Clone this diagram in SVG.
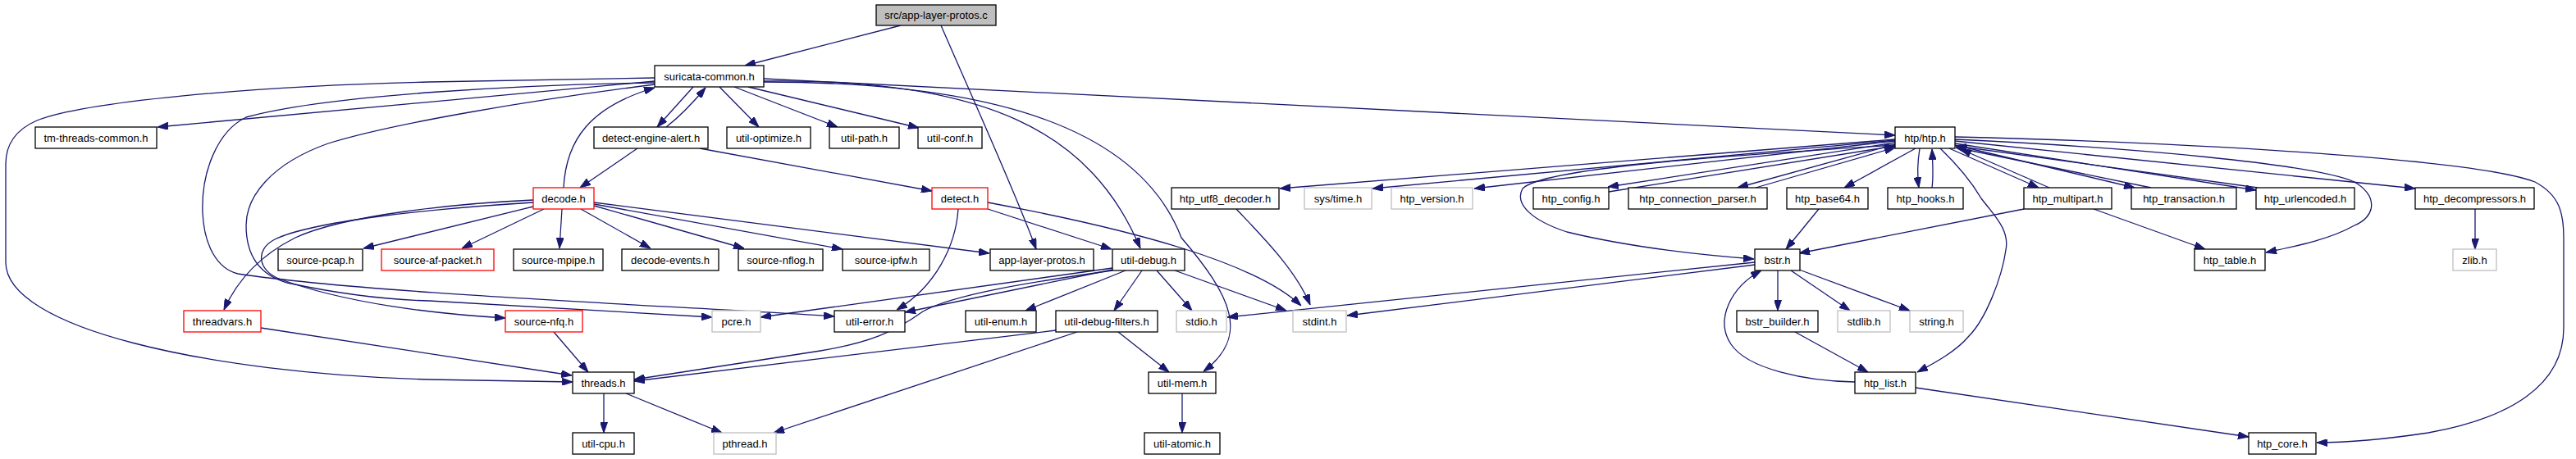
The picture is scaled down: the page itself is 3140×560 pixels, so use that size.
<svg xmlns="http://www.w3.org/2000/svg" width="3140" height="560" viewBox="0 0 3140 560">
<style>
.n rect{fill:#ffffff;stroke:#000000;stroke-width:1.3}
.n.red rect{stroke:#ff0000}
.n.gray rect{stroke:#bfbfbf}
.n.root rect{fill:#bfbfbf}
.n text{font-family:"Liberation Sans",Arial,sans-serif;font-size:13px;fill:#000;text-anchor:middle}
#edges path{fill:none;stroke:#191970;stroke-width:1.3;marker-end:url(#ah)}
</style>
<defs>
<marker id="ah" viewBox="0 0 13 9" refX="13" refY="4.5" markerWidth="13" markerHeight="9" markerUnits="userSpaceOnUse" orient="auto">
<path d="M0,0 L13,4.5 L0,9 z" fill="#191970" stroke="#191970" stroke-width="1"/>
</marker>
</defs>
<rect width="3140" height="560" fill="#ffffff"/>
<g id="edges">
<path d="M1098,31 L908,80"/>
<path d="M1147,31 C1190,130 1240,240 1263,304"/>
<path d="M798,99 L192,155"/>
<path d="M798,95 L523,100 C300,105 100,125 45,147 C15,160 7,180 7,200 L7,320 C7,400 250,455 523,463 L698,466"/>
<path d="M845,106 L801,155"/>
<path d="M812,155 C825,145 845,125 860,107"/>
<path d="M877,106 L925,155"/>
<path d="M895,106 L1021,155"/>
<path d="M912,106 L1120,156"/>
<path d="M931,96 L2310,165"/>
<path d="M931,99 C1200,95 1330,160 1390,303"/>
<path d="M931,100 C1220,100 1390,160 1440,290 C1500,360 1525,410 1467,453"/>
<path d="M798,101 C650,103 400,115 300,143 C265,160 245,210 247,260 C249,300 265,328 290,334 C450,358 800,372 1017,386"/>
<path d="M798,103 C650,122 480,150 400,175 C330,200 300,240 300,275 C300,310 315,335 350,345 C420,360 480,366 523,367 L868,387"/>
<path d="M687,229 C690,170 720,130 798,107"/>
<path d="M777,181 L707,229"/>
<path d="M853,181 L1136,233"/>
<path d="M650,244 C560,248 420,262 360,290 C320,310 290,340 273,378"/>
<path d="M650,247 C520,255 380,270 335,292 C310,305 315,330 340,340 C420,370 530,383 616,388"/>
<path d="M650,252 L443,303"/>
<path d="M663,255 L563,303"/>
<path d="M685,255 L682,303"/>
<path d="M708,255 L793,303"/>
<path d="M724,251 L907,303"/>
<path d="M724,249 L1027,304"/>
<path d="M724,247 L1206,309"/>
<path d="M1168,255 C1165,300 1140,350 1093,378"/>
<path d="M1204,255 L1355,304"/>
<path d="M1204,247 C1380,280 1530,320 1586,373"/>
<path d="M1432,330 L1568,379"/>
<path d="M1507,255 C1540,290 1580,330 1597,372"/>
<path d="M2139,320 L1496,387"/>
<path d="M2139,323 L1642,385"/>
<path d="M1356,327 L927,387"/>
<path d="M1356,329 L1103,381"/>
<path d="M1356,330 C1250,345 1160,360 1125,380 C1090,405 1060,418 1000,428 L773,463"/>
<path d="M1287,403 L773,465"/>
<path d="M1313,405 L943,528"/>
<path d="M1372,330 L1250,379"/>
<path d="M1392,330 L1358,379"/>
<path d="M1410,330 L1453,379"/>
<path d="M1363,405 L1425,454"/>
<path d="M1441,480 L1441,528"/>
<path d="M318,400 L697,458"/>
<path d="M675,405 L717,454"/>
<path d="M736,480 L736,528"/>
<path d="M763,480 L880,528"/>
<path d="M2310,170 L1560,230"/>
<path d="M2310,171 L1673,230"/>
<path d="M2310,172 L1797,230"/>
<path d="M2310,174 L1960,228"/>
<path d="M1961,234 L2310,178"/>
<path d="M2310,176 L2118,229"/>
<path d="M2140,229 L2310,180"/>
<path d="M2335,181 L2248,229"/>
<path d="M2340,181 C2337,200 2337,215 2339,229"/>
<path d="M2355,229 C2357,215 2356,200 2355,182"/>
<path d="M2365,181 C2390,205 2405,225 2415,242 C2430,262 2450,280 2445,305 C2440,340 2420,390 2400,410 C2385,428 2360,442 2337,454"/>
<path d="M2310,177 C2100,190 1880,205 1856,230 C1845,250 1870,270 1910,283 C1980,300 2060,310 2138,316"/>
<path d="M2376,181 L2485,229"/>
<path d="M2498,229 L2390,182"/>
<path d="M2383,177 L2602,229"/>
<path d="M2622,229 L2384,180"/>
<path d="M2383,175 L2750,232"/>
<path d="M2752,229 L2384,178"/>
<path d="M2383,172 L2944,230"/>
<path d="M2383,170 C2600,180 2820,200 2870,222 C2900,240 2895,265 2870,275 C2840,292 2800,300 2762,308"/>
<path d="M2383,167 C2700,175 3020,195 3090,222 C3120,238 3125,260 3125,290 L3125,400 C3125,470 3060,510 2960,528 C2900,537 2860,540 2824,540"/>
<path d="M3017,255 L3017,304"/>
<path d="M2467,255 L2193,309"/>
<path d="M2217,255 L2177,304"/>
<path d="M2552,255 L2688,304"/>
<path d="M2167,330 L2167,379"/>
<path d="M2183,330 L2255,379"/>
<path d="M2193,329 L2328,379"/>
<path d="M2188,405 L2277,454"/>
<path d="M2261,466 C2200,465 2130,450 2110,420 C2090,390 2110,350 2147,330"/>
<path d="M2335,473 L2741,533"/>
</g>
<g id="n_root" class="n root"><rect x="1068" y="6" width="146" height="25"/><text x="1141" y="23">src/app-layer-protos.c</text></g>
<g id="n_suricata_common" class="n"><rect x="798" y="80" width="133" height="26"/><text x="864.5" y="98">suricata-common.h</text></g>
<g id="n_tm_threads_common" class="n"><rect x="43" y="155" width="148" height="26"/><text x="117" y="173">tm-threads-common.h</text></g>
<g id="n_detect_engine_alert" class="n"><rect x="724" y="155" width="139" height="26"/><text x="793.5" y="173">detect-engine-alert.h</text></g>
<g id="n_util_optimize" class="n"><rect x="886" y="155" width="102" height="26"/><text x="937" y="173">util-optimize.h</text></g>
<g id="n_util_path" class="n"><rect x="1011" y="155" width="85" height="26"/><text x="1053.5" y="173">util-path.h</text></g>
<g id="n_util_conf" class="n"><rect x="1119" y="155" width="78" height="26"/><text x="1158" y="173">util-conf.h</text></g>
<g id="n_htp" class="n"><rect x="2310" y="155" width="73" height="26"/><text x="2346.5" y="173">htp/htp.h</text></g>
<g id="n_decode" class="n red"><rect x="650" y="229" width="74" height="26"/><text x="687" y="247">decode.h</text></g>
<g id="n_detect" class="n red"><rect x="1136" y="229" width="68" height="26"/><text x="1170" y="247">detect.h</text></g>
<g id="n_htp_utf8_decoder" class="n"><rect x="1428" y="229" width="131" height="26"/><text x="1493.5" y="247">htp_utf8_decoder.h</text></g>
<g id="n_sys_time" class="n gray"><rect x="1590" y="229" width="82" height="26"/><text x="1631" y="247">sys/time.h</text></g>
<g id="n_htp_version" class="n gray"><rect x="1696" y="229" width="99" height="26"/><text x="1745.5" y="247">htp_version.h</text></g>
<g id="n_htp_config" class="n"><rect x="1869" y="229" width="92" height="26"/><text x="1915" y="247">htp_config.h</text></g>
<g id="n_htp_connection_parser" class="n"><rect x="1985" y="229" width="169" height="26"/><text x="2069.5" y="247">htp_connection_parser.h</text></g>
<g id="n_htp_base64" class="n"><rect x="2178" y="229" width="99" height="26"/><text x="2227.5" y="247">htp_base64.h</text></g>
<g id="n_htp_hooks" class="n"><rect x="2301" y="229" width="92" height="26"/><text x="2347" y="247">htp_hooks.h</text></g>
<g id="n_htp_multipart" class="n"><rect x="2467" y="229" width="107" height="26"/><text x="2520.5" y="247">htp_multipart.h</text></g>
<g id="n_htp_transaction" class="n"><rect x="2598" y="229" width="128" height="26"/><text x="2662" y="247">htp_transaction.h</text></g>
<g id="n_htp_urlencoded" class="n"><rect x="2750" y="229" width="120" height="26"/><text x="2810" y="247">htp_urlencoded.h</text></g>
<g id="n_htp_decompressors" class="n"><rect x="2944" y="229" width="145" height="26"/><text x="3016.5" y="247">htp_decompressors.h</text></g>
<g id="n_source_pcap" class="n"><rect x="339" y="304" width="103" height="26"/><text x="390.5" y="322">source-pcap.h</text></g>
<g id="n_source_af_packet" class="n red"><rect x="465" y="304" width="137" height="26"/><text x="533.5" y="322">source-af-packet.h</text></g>
<g id="n_source_mpipe" class="n"><rect x="626" y="304" width="109" height="26"/><text x="680.5" y="322">source-mpipe.h</text></g>
<g id="n_decode_events" class="n"><rect x="758" y="304" width="118" height="26"/><text x="817" y="322">decode-events.h</text></g>
<g id="n_source_nflog" class="n"><rect x="900" y="304" width="103" height="26"/><text x="951.5" y="322">source-nflog.h</text></g>
<g id="n_source_ipfw" class="n"><rect x="1027" y="304" width="106" height="26"/><text x="1080" y="322">source-ipfw.h</text></g>
<g id="n_app_layer_protos_h" class="n"><rect x="1207" y="304" width="126" height="26"/><text x="1270" y="322">app-layer-protos.h</text></g>
<g id="n_util_debug" class="n"><rect x="1356" y="304" width="88" height="26"/><text x="1400" y="322">util-debug.h</text></g>
<g id="n_bstr" class="n"><rect x="2139" y="304" width="55" height="26"/><text x="2166.5" y="322">bstr.h</text></g>
<g id="n_htp_table" class="n"><rect x="2675" y="304" width="86" height="26"/><text x="2718" y="322">htp_table.h</text></g>
<g id="n_zlib" class="n gray"><rect x="2990" y="304" width="53" height="26"/><text x="3016.5" y="322">zlib.h</text></g>
<g id="n_threadvars" class="n red"><rect x="224" y="379" width="94" height="26"/><text x="271" y="397">threadvars.h</text></g>
<g id="n_source_nfq" class="n red"><rect x="616" y="379" width="94" height="26"/><text x="663" y="397">source-nfq.h</text></g>
<g id="n_pcre" class="n gray"><rect x="868" y="379" width="59" height="26"/><text x="897.5" y="397">pcre.h</text></g>
<g id="n_util_error" class="n"><rect x="1017" y="379" width="86" height="26"/><text x="1060" y="397">util-error.h</text></g>
<g id="n_util_enum" class="n"><rect x="1177" y="379" width="86" height="26"/><text x="1220" y="397">util-enum.h</text></g>
<g id="n_util_debug_filters" class="n"><rect x="1287" y="379" width="124" height="26"/><text x="1349" y="397">util-debug-filters.h</text></g>
<g id="n_stdio" class="n gray"><rect x="1434" y="379" width="61" height="26"/><text x="1464.5" y="397">stdio.h</text></g>
<g id="n_stdint" class="n gray"><rect x="1576" y="379" width="65" height="26"/><text x="1608.5" y="397">stdint.h</text></g>
<g id="n_bstr_builder" class="n"><rect x="2117" y="379" width="99" height="26"/><text x="2166.5" y="397">bstr_builder.h</text></g>
<g id="n_stdlib" class="n gray"><rect x="2240" y="379" width="64" height="26"/><text x="2272" y="397">stdlib.h</text></g>
<g id="n_string" class="n gray"><rect x="2328" y="379" width="65" height="26"/><text x="2360.5" y="397">string.h</text></g>
<g id="n_threads" class="n"><rect x="698" y="454" width="75" height="26"/><text x="735.5" y="472">threads.h</text></g>
<g id="n_util_mem" class="n"><rect x="1400" y="454" width="82" height="26"/><text x="1441" y="472">util-mem.h</text></g>
<g id="n_htp_list" class="n"><rect x="2261" y="454" width="74" height="26"/><text x="2298" y="472">htp_list.h</text></g>
<g id="n_util_cpu" class="n"><rect x="698" y="528" width="75" height="26"/><text x="735.5" y="546">util-cpu.h</text></g>
<g id="n_pthread" class="n gray"><rect x="870" y="528" width="76" height="26"/><text x="908" y="546">pthread.h</text></g>
<g id="n_util_atomic" class="n"><rect x="1395" y="528" width="92" height="26"/><text x="1441" y="546">util-atomic.h</text></g>
<g id="n_htp_core" class="n"><rect x="2741" y="528" width="82" height="26"/><text x="2782" y="546">htp_core.h</text></g>
</svg>
